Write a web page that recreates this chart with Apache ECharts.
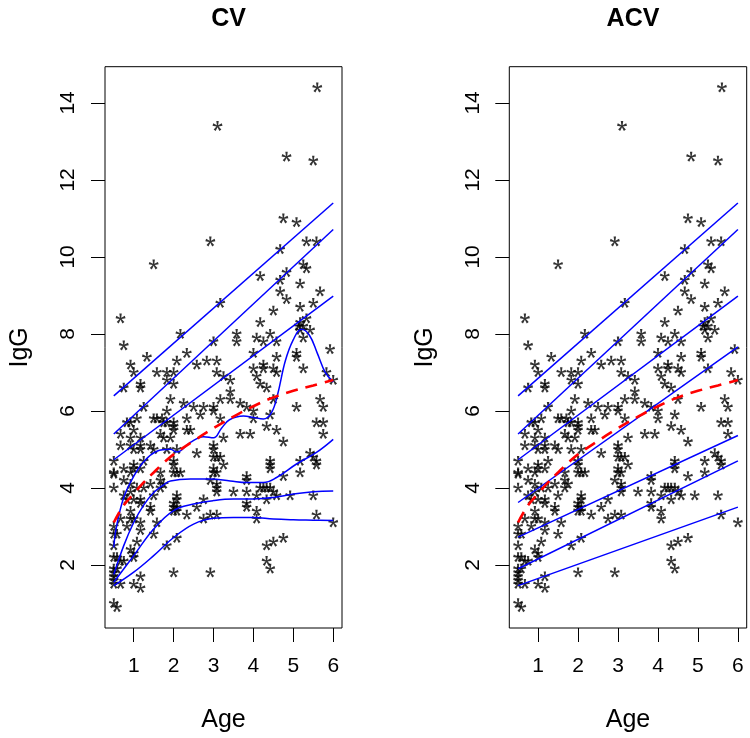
<!DOCTYPE html>
<html><head><meta charset="utf-8">
<script src="https://cdn.jsdelivr.net/npm/echarts@6/dist/echarts.min.js"></script>
<style>html,body{margin:0;padding:0;background:#fff}#c{width:750px;height:738px}</style>
</head><body><div id="c"></div>
<script>
// ---- observations: age (years) and IgG (g/L) ----
const age = [5.6,3.1,4.83,5.5,4.75,5.08,2.92,5.33,5.58,4.67,
1.5,5.25,5.33,4.17,4.83,4.67,5.17,4.67,5.67,4.83,3.17,5.5,0.67,4.5,5.17,4.17,5.17,5.33,5.13,5.25,5.42,5.17,5.25,
0.75,2.17,3.58,3.58,4.08,4.25,4.42,4.58,3.0,4.0,5.08,5.08,5.92,1.33,2.08,2.33,2.83,3.08,2.58,0.92,1.0,1.58,1.83,2.0,1.83,2.0,3.08,3.25,3.42,4.25,4.25,4.0,4.5,4.58,4.08,4.58,5.25,5.83,6.0,4.17,4.33,0.75,1.17,1.17,1.25,1.92,3.42,3.17,3.42,4.5,5.67,5.75,5.08,2.25,2.5,2.75,3.0,3.0,3.67,3.83,4.0,4.0,2.67,3.17,2.33,1.83,1.5,1.58,1.71,1.75,1.83,2.0,2.0,0.83,0.92,1.0,1.08,0.67,0.92,1.17,0.67,0.92,1.17,1.42,1.67,1.75,1.92,2.0,2.33,2.42,3.0,3.25,3.67,3.92,4.33,4.42,4.58,4.75,5.58,5.75,5.75,
1.0,1.17,1.83,2.08,3.0,2.58,0.5,1.25,2.0,2.0,1.0,0.75,1.0,0.5,0.5,0.92,1.17,1.67,0.75,0.92,0.5,1.08,1.25,1.67,1.75,1.67,2.0,2.08,2.17,3.0,3.08,3.17,3.25,3.0,3.08,3.0,2.92,3.08,3.08,3.08,3.5,3.83,3.83,3.83,4.08,4.17,4.25,4.33,4.42,4.5,4.58,4.42,4.42,4.42,4.33,4.92,4.75,5.17,5.17,5.42,5.5,5.58,5.58,5.5,5.58,6.0,0.75,0.92,0.83,1.0,0.67,0.92,1.0,0.92,1.17,1.17,1.42,1.42,1.5,1.42,1.17,1.17,0.83,0.5,0.5,0.58,0.5,1.08,0.92,1.0,1.0,0.5,0.58,0.67,0.75,0.5,0.58,0.5,0.5,0.5,0.5,0.67,1.0,1.17,1.17,0.5,0.58,1.5,1.58,1.83,2.08,2.0,2.92,2.0,2.0,2.08,2.08,2.0,2.08,2.08,2.33,2.58,2.75,2.75,2.92,3.08,3.83,3.83,4.08,4.08,4.33,4.5,4.75,4.33,4.42,1.5];
const igg = [14.4,13.4,12.6,12.5,11.0,10.9,10.4,10.4,10.4,10.2,
9.8,9.8,9.7,9.5,9.6,9.4,9.3,9.1,9.1,8.9,8.8,8.8,8.4,8.6,8.7,8.3,8.3,8.4,8.2,8.2,8.1,8.1,7.9,
7.7,8.0,8.0,7.8,7.9,7.8,8.0,7.8,7.8,7.5,7.5,7.4,7.6,7.4,7.3,7.5,7.3,7.3,7.2,7.2,7.0,7.0,7.0,7.0,6.8,6.7,7.0,6.9,6.8,7.2,7.1,7.1,7.1,7.0,6.9,7.4,7.1,7.0,6.8,6.7,6.6,6.6,6.7,6.6,6.1,6.3,6.5,6.3,6.3,6.3,6.3,6.1,6.1,6.2,6.1,6.1,6.1,6.0,6.2,6.1,5.8,6.0,5.9,5.8,5.8,6.0,5.8,5.8,5.8,5.7,5.7,5.7,5.6,5.7,5.7,5.5,5.8,5.4,5.3,5.3,5.1,5.1,5.1,5.1,5.4,5.3,5.3,5.5,5.5,5.5,5.1,5.3,5.4,5.4,5.6,5.9,5.5,5.2,5.7,5.7,5.4,
5.0,5.0,5.0,5.0,5.0,4.9,4.7,4.7,4.7,4.6,4.6,4.5,4.5,4.4,4.36,4.4,4.5,4.4,4.2,4.1,4.0,4.0,4.0,4.2,4.1,4.0,4.4,4.4,4.4,4.8,4.8,4.8,4.6,4.5,4.4,4.4,4.2,4.1,4.0,3.9,3.9,4.3,4.2,3.9,3.8,4.0,4.0,4.0,4.0,3.9,3.8,4.7,4.6,4.5,3.7,3.8,4.3,4.7,4.4,4.9,4.8,4.7,4.6,3.8,3.3,3.1,3.8,3.9,3.7,3.7,3.2,3.2,3.2,3.4,3.7,3.6,3.5,3.4,3.8,4.1,3.1,2.9,3.0,3.0,2.8,2.8,2.5,2.6,2.4,2.3,2.2,2.2,2.2,2.1,2.1,1.9,1.9,1.8,1.7,1.6,1.5,1.5,1.5,1.4,1.7,1.0,0.9,2.8,3.1,2.5,2.7,1.8,1.8,3.5,3.4,3.5,3.4,3.6,3.8,3.7,3.3,3.5,3.7,3.2,3.3,3.3,3.6,3.5,3.4,3.2,2.5,2.6,2.7,2.1,1.9,5.0];

// ---- fitted curves ----
const lineAges = [0.5, 6];
const lineA = [6.39, 11.4];
const lineB = [5.4, 10.71];
const lineC = [4.73, 8.98];
const lineD = [3.62, 7.66];
const lineE = [2.72, 5.36];
const lineF = [1.9, 4.7];
const lineG = [1.46, 3.5];

const bumpAges = [0.5,0.56,0.75,1,1.25,1.58,1.92,2.08,2.42,2.75,3.0,3.2,3.4,3.75,4.0,4.25,4.45,4.6,4.8,5.0,5.2,5.4,5.6,5.8,6.0];
const bumpVals = [2.45,2.95,3.75,4.3,4.68,4.95,5.0,4.93,5.18,5.33,5.3,5.55,5.77,5.87,5.83,5.79,5.95,6.4,7.3,7.85,8.12,7.97,7.5,7.0,6.75];
const midAges = [0.5,0.75,1,1.25,1.5,1.75,1.92,2.42,2.92,3.42,3.83,4.25,4.58,5.08,5.58,6.0];
const midVals = [1.75,2.5,3.1,3.55,3.88,4.08,4.18,4.23,4.23,4.18,4.14,4.14,4.27,4.62,4.92,5.26];
const lowAges = [0.5,1,1.5,2,2.5,3,3.5,4,4.5,5,5.5,6];
const lowVals = [1.55,2.24,2.93,3.41,3.58,3.67,3.71,3.71,3.75,3.84,3.9,3.92];
const lowestVals = [1.46,1.81,2.24,2.71,3.06,3.21,3.23,3.23,3.19,3.17,3.16,3.15];
const meanAges = [0.5,0.75,1,1.25,1.5,1.75,2,2.5,3,3.5,4,4.5,5,5.5,6];
const meanVals = [3.1,3.55,3.85,4.14,4.4,4.65,4.87,5.22,5.55,5.85,6.12,6.35,6.52,6.66,6.8];

const xTicks = [1,2,3,4,5,6];
const yTicks = [2,4,6,8,10,12,14];
const titles = ['CV','ACV'];

const zip = (a,b)=>a.map((v,i)=>[v,b[i]]);
const FONT = 'Liberation Sans, Arial, Helvetica, sans-serif';

function asteriskPath(){
  const R=50, r=11, d=14*Math.PI/180, pts=[];
  const P=(rad,ang)=>[(50+rad*Math.sin(ang)).toFixed(2),(50-rad*Math.cos(ang)).toFixed(2)].join(' ');
  for(let k=0;k<5;k++){
    const th=k*72*Math.PI/180;
    pts.push(P(R,th-d)); pts.push(P(R,th+d)); pts.push(P(r,th+36*Math.PI/180));
  }
  return 'path://M'+pts.join(' L')+' Z';
}
const STAR = asteriskPath();

const grids = [
  {left:105, top:66.7, width:237, height:561.5, show:true, borderColor:'#000', borderWidth:1, backgroundColor:'transparent'},
  {left:509.3, top:66.7, width:237.4, height:561.5, show:true, borderColor:'#000', borderWidth:1, backgroundColor:'transparent'}
];
const xAxes = [], yAxes = [], series = [];
grids.forEach((g,i)=>{
  xAxes.push({type:'value', gridIndex:i, min:0.28, max:6.22,
    axisLine:{show:false}, splitLine:{show:false},
    axisTick:{show:true, inside:false, length:14, customValues:xTicks, lineStyle:{color:'#000', width:1}},
    axisLabel:{customValues:xTicks, fontSize:21, color:'#000', margin:28, fontFamily:FONT},
    name:'Age', nameLocation:'middle', nameGap:80,
    nameTextStyle:{fontSize:25, color:'#000', fontFamily:FONT}});
  yAxes.push({type:'value', gridIndex:i, min:0.36, max:14.94,
    axisLine:{show:false}, splitLine:{show:false},
    axisTick:{show:true, inside:false, length:14, customValues:yTicks, lineStyle:{color:'#000', width:1}},
    axisLabel:{customValues:yTicks, fontSize:21, color:'#000', margin:26, rotate:90, fontFamily:FONT},
    name:'IgG', nameLocation:'middle', nameGap:72, nameRotate:90,
    nameTextStyle:{fontSize:25, color:'#000', fontFamily:FONT}});
  series.push({type:'scatter', xAxisIndex:i, yAxisIndex:i, data:zip(age,igg),
    symbol:STAR, symbolSize:10, itemStyle:{color:'#000'}, z:2, silent:true});
});
function addLine(i, xs, ys, smooth){
  series.push({type:'line', xAxisIndex:i, yAxisIndex:i, data:zip(xs,ys), symbol:'none',
    smooth:smooth, lineStyle:{color:'#0000FF', width:1.5}, z:3, silent:true});
}
// CV panel
addLine(0, lineAges, lineA, false);
addLine(0, lineAges, lineB, false);
addLine(0, lineAges, lineC, false);
addLine(0, bumpAges, bumpVals, 0.4);
addLine(0, midAges, midVals, 0.4);
addLine(0, lowAges, lowVals, 0.4);
addLine(0, lowAges, lowestVals, 0.4);
// ACV panel
[lineA,lineB,lineC,lineD,lineE,lineF,lineG].forEach(l=>addLine(1, lineAges, l, false));
[0,1].forEach(i=>series.push({type:'line', xAxisIndex:i, yAxisIndex:i, data:zip(meanAges,meanVals),
  symbol:'none', smooth:0.4, lineStyle:{color:'#FF0000', width:2.6, type:[12,8]}, z:4, silent:true}));

const chart = echarts.init(document.getElementById('c'), null, {renderer:'canvas'});
chart.setOption({
  animation:false,
  backgroundColor:'#fff',
  title: titles.map((t,i)=>({text:t, left: i===0 ? 223.5 : 628, top:2, textAlign:'center',
    textStyle:{fontSize:25, fontWeight:'bold', color:'#000', fontFamily:FONT}})),
  grid: grids, xAxis: xAxes, yAxis: yAxes, series: series
});
</script></body></html>
